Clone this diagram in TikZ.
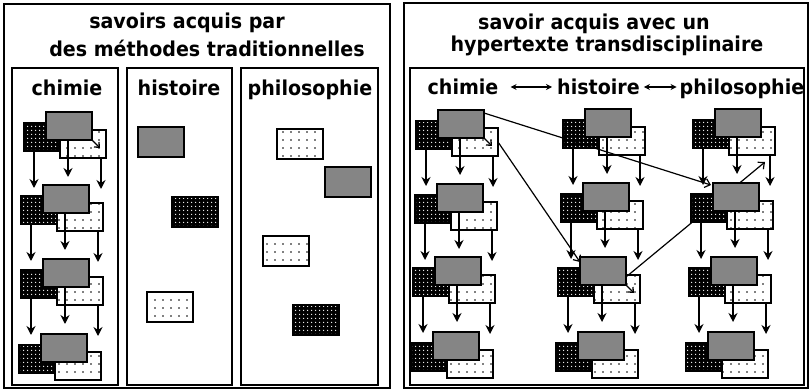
\documentclass[tikz,border=0pt]{standalone}
\usepackage{fontspec}
\newfontfamily\hdfont[FakeStretch=0.93]{DejaVu Sans}
\usetikzlibrary{arrows.meta,patterns.meta,calc}
\tikzset{
 hd/.style={font=\hdfont\bfseries\fontsize{20.5}{24}\selectfont, inner sep=0pt},
 rbase/.style={draw=black, line width=1.5pt, minimum width=46pt, minimum height=28pt, inner sep=0pt, outer sep=0pt, anchor=north west},
 dk/.style={rbase, preaction={fill=black}, pattern={Dots[radius=0.8pt,distance=4pt]}, pattern color=white},
 md/.style={rbase, fill=black!48},
 lt/.style={rbase, preaction={fill=white}, pattern={Dots[radius=0.85pt,distance=8pt,xshift=3pt,yshift=2pt]}, pattern color=black},
 arr/.style={line width=1.6pt, -{Stealth[length=9pt,width=9pt,inset=3pt]}},
 lk/.style={line width=1.2pt, -{Straight Barb[length=5pt,width=9pt]}},
 mk/.style={line width=1.3pt, -{Straight Barb[length=4pt,width=7pt]}},
 harr/.style={line width=1.4pt, {Stealth[length=6pt,width=6pt]}-{Stealth[length=6pt,width=6pt]}},
 frame/.style={draw=black, line width=2pt},
}
\newcommand\stk[3]{%
 \node[dk] (#1d) at (#2-22,#3+11) {};
 \node[lt] (#1l) at (#2+14,#3+18) {};
 \node[md] (#1m) at (#2,#3) {};
}
\newcommand\dn[1]{%
 \draw[arr] ($(#1d.south west)+(10,0)$) -- ++(0,37);
 \draw[arr] ($(#1m.south west)+(22,0)$) -- ++(0,37);
 \draw[arr] ($(#1l.south west)+(41,0)$) -- ++(0,31);
}
\begin{document}
\begin{tikzpicture}[x=1pt,y=-1pt]
\useasboundingbox (0,0) rectangle (811,390);
\fill[white] (0,0) rectangle (811,390);
% ---------- left panel ----------
\draw[frame] (4,4) rectangle (390,388);
\draw[frame] (12,68) rectangle (118,385);
\draw[frame] (127,68) rectangle (232,385);
\draw[frame] (241,68) rectangle (378,385);
\node[hd, anchor=base] (lt1) at (187,29) {savoirs acquis par};
\node[hd, anchor=base] (lt2) at (207,57) {des méthodes traditionnelles};
\node[hd, anchor=base] (lc) at (67,96) {chimie};
\node[hd, anchor=base] (lh) at (179,96) {histoire};
\node[hd, anchor=base] (lp) at (310,96) {philosophie};
\stk{a1}{46}{112}
\stk{a2}{43}{185}
\stk{a3}{43}{259}
\stk{a4}{41}{334}
\dn{a1}\dn{a2}\dn{a3}
\draw[mk] (a1m.south east) -- ++(8,8);
\node[md, minimum height=30pt] (h1) at (138,127) {};
\node[dk, minimum height=30pt] (h2) at (172,197) {};
\node[lt, minimum height=30pt] (h3) at (147,292) {};
\node[lt, minimum height=30pt] (p1) at (277,129) {};
\node[md, minimum height=30pt] (p2) at (325,167) {};
\node[lt, minimum height=30pt] (p3) at (263,236) {};
\node[dk, minimum height=30pt] (p4) at (293,305) {};
% ---------- right panel ----------
\draw[frame] (404,3) rectangle (808,388);
\draw[frame] (410,68) rectangle (804,385);
\node[hd, anchor=base] (rt1) at (594,30) {savoir acquis avec un};
\node[hd, anchor=base] (rt2) at (607,52) {hypertexte transdisciplinaire};
\node[hd, anchor=base] (rc) at (463,95) {chimie};
\node[hd, anchor=base west] (rh) at (557,95) {histoire};
\node[hd, anchor=base] (rp) at (742,95) {philosophie};
\draw[harr] ($(rc.base east)+(12,-8)$) -- ($(rh.base west)+(-5,-8)$);
\draw[harr] ($(rh.base east)+(4,-8)$) -- ($(rp.base west)+(-3,-8)$);
% link under stacks
\coordinate (l3s) at (626,277);
\coordinate (l3e) at (765,162);
\draw[lk] (l3s) -- (l3e);
\stk{r11}{438}{110}
\stk{r12}{437}{184}
\stk{r13}{435}{257}
\stk{r14}{433}{332}
\stk{r21}{585}{109}
\stk{r22}{583}{183}
\stk{r23}{580}{257}
\stk{r24}{578}{332}
\stk{r31}{715}{109}
\stk{r32}{713}{183}
\stk{r33}{711}{257}
\stk{r34}{708}{332}
\dn{r11}\dn{r12}\dn{r13}
\dn{r21}\dn{r22}\dn{r23}
\dn{r31}\dn{r32}\dn{r33}
\draw[lk] ($(r11m.north east)+(0,3)$) -- ($(r32m.north west)+(-2,2)$);
\draw[lk] (r11l.east) -- ($(r23m.north west)+(0,5)$);
\draw[mk] (r11m.south east) -- ++(8,8);
\draw[mk] (r23m.south east) -- ++(8,8);
\end{tikzpicture}
\end{document}
